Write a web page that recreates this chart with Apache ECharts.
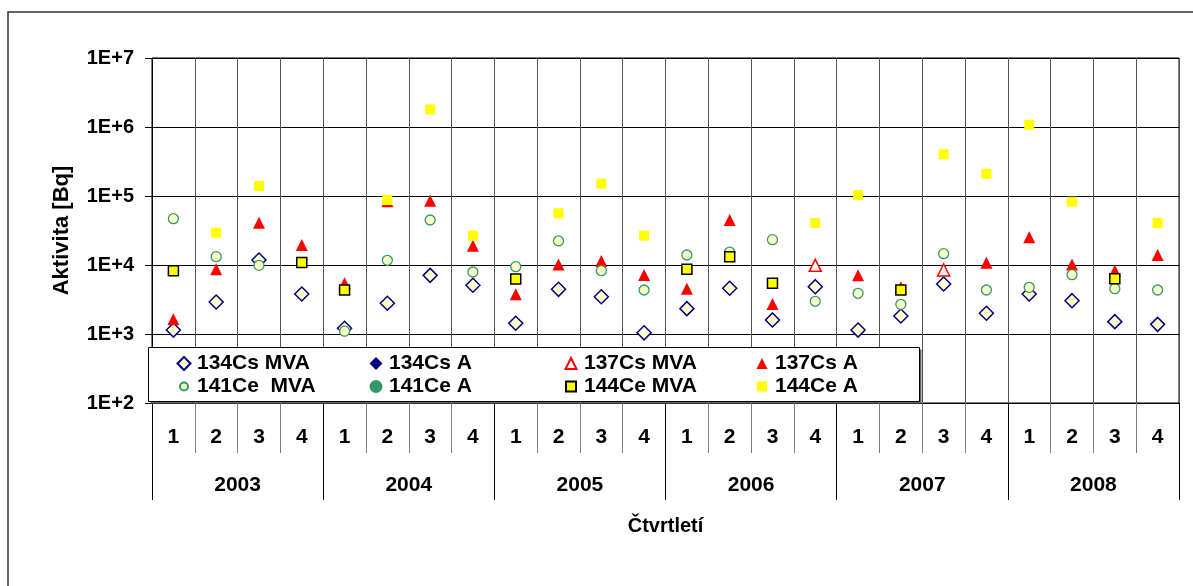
<!DOCTYPE html>
<html>
<head>
<meta charset="utf-8">
<script src="https://cdn.jsdelivr.net/npm/echarts@6/dist/echarts.min.js"></script>
<style>
html,body{margin:0;padding:0;background:#fff;}
#chart{width:1193px;height:586px;}
</style>
</head>
<body>
<div id="chart"></div>
<script>
// ---- data ----
const years = ['2003','2004','2005','2006','2007','2008'];
const quarters = ['1','2','3','4'];
const yTickExponents = [2,3,4,5,6,7];

const cs134MVA = [1140, 2910, 11800, 3800, 1210, 2790, 7080, 5080, 1430, 4440, 3470, 1040,
                  2330, 4600, 1600, 4850, 1140, 1820, 5300, 2000, 3800, 3040, 1510, 1380];
const cs134A   = [];
const cs137MVA = [null, null, null, null, null, null, null, null, null, null, null, null,
                  null, null, null, 9900, null, null, 8470, null, null, null, null, null];
const cs137A   = [1630, 8650, 41000, 19500, 5430, 84000, 85500, 19000, 3760, 10200, 11400, 7160,
                  4540, 44900, 2720, null, 7080, 4750, null, 10800, 25200, 10200, 8270, 14000];
const ce141MVA = [46900, 13200, 9900, null, 1100, 11700, 44900, 7920, 9460, 22300, 8270, 4340,
                  13960, 15400, 23300, 2980, 3890, 2690, 14600, 4340, 4750, 7230, 4540, 4340];
const ce141A   = [];
const ce144MVA = [8270, null, null, 10900, 4340, null, null, null, 6270, null, null, null,
                  8650, 13200, 5430, null, null, 4340, null, null, null, null, 6330, null];
const ce144A   = [null, 29400, 139600, null, null, 87500, 1800000, 26600, null, 56100, 151000, 26600,
                  null, null, null, 40600, 103000, null, 402000, 210000, 1080000, 82600, null, 40600];

const categories = [];
years.forEach(y => quarters.forEach(q => categories.push(y + '-' + q)));

const FONT = "'Liberation Sans', Arial, sans-serif";
const txt = {fontFamily: FONT, fontWeight: 'bold', fontSize: 20, color: '#000'};

function clean(a){ return a.map(v => v == null ? '-' : v); }

const seriesDefs = [
  {name:'134Cs MVA', data:cs134MVA, symbol:'diamond', size:14, style:{color:'#FFFFCC', borderColor:'#000080', borderWidth:1.5}, lg:{w:13,h:13}},
  {name:'134Cs A', data:cs134A, symbol:'diamond', size:14, style:{color:'#000080'}, lg:{w:13,h:13}},
  {name:'137Cs MVA', data:cs137MVA, symbol:'triangle', size:12, style:{color:'#FFFFFF', borderColor:'#FF0000', borderWidth:1.5}, lg:{w:11,h:11}},
  {name:'137Cs A', data:cs137A, symbol:'triangle', size:12, style:{color:'#FF0000'}, lg:{w:11,h:11}},
  {name:'141Ce  MVA', data:ce141MVA, symbol:'circle', size:10, style:{color:'#FFFFCC', borderColor:'#339966', borderWidth:1.3}, lg:{w:8,h:8}},
  {name:'141Ce A', data:ce141A, symbol:'circle', size:10, style:{color:'#339966'}, lg:{w:13,h:13}},
  {name:'144Ce MVA', data:ce144MVA, symbol:'rect', size:10, style:{color:'#FFFF00', borderColor:'#000000', borderWidth:1.5}, lg:{w:10,h:10}},
  {name:'144Ce A', data:ce144A, symbol:'rect', size:10, style:{color:'#FFFF00'}, lg:{w:10,h:10}}
];

// legend grid: icon centers
const legCols = [183, 376, 570, 762];
const legRows = [363.5, 386.5];
const legendTextStart = [196, 389, 583, 775];
const legendPos = [[0,0],[1,0],[2,0],[3,0],[0,1],[1,1],[2,1],[3,1]];

const legends = seriesDefs.map((s, i) => {
  const [c, r] = legendPos[i];
  const left = legCols[c] - s.lg.w / 2;
  const textPad = legendTextStart[c] - (left + s.lg.w + 5);
  return {
    show: true, data: [s.name], selectedMode: false,
    left: left, top: legRows[r] - 10.5, padding: 0,
    itemWidth: s.lg.w, itemHeight: s.lg.h, z: 8,
    textStyle: Object.assign({}, txt, {fontSize: 21, lineHeight: 21, padding: [0, 0, 0, Math.max(0, textPad)]})
  };
});

const series = seriesDefs.map(s => ({
  name: s.name, type: 'scatter', data: clean(s.data),
  symbol: s.symbol, symbolSize: s.size,
  itemStyle: Object.assign({opacity: 1}, s.style),
  xAxisIndex: 0, yAxisIndex: 0,
  emphasis: {disabled: true}, z: 2
}));

const chart = echarts.init(document.getElementById('chart'), null, {renderer: 'canvas'});
chart.setOption({
  animation: false,
  backgroundColor: '#ffffff',
  grid: {left: 152, right: 14, top: 58, bottom: 183, show: true, borderColor: '#000', borderWidth: 1, backgroundColor: 'transparent'},
  legend: legends,
  xAxis: [
    {
      type: 'category', data: categories, position: 'bottom', boundaryGap: true,
      axisLine: {show: true, lineStyle: {color: '#000', width: 1}},
      axisTick: {show: true, interval: 0, length: 50, lineStyle: {color: '#808080', width: 1}},
      axisLabel: Object.assign({}, txt, {fontSize: 21, interval: 0, margin: 24, formatter: v => v.split('-')[1]}),
      splitLine: {show: true, interval: 0, lineStyle: {color: '#555', width: 1}}
    },
    {
      type: 'category', data: years, position: 'bottom', boundaryGap: true, gridIndex: 0,
      axisLine: {show: false},
      axisTick: {show: true, interval: 0, length: 97, lineStyle: {color: '#000', width: 1}},
      axisLabel: Object.assign({}, txt, {fontSize: 21, interval: 0, margin: 72}),
      splitLine: {show: false},
      name: 'Čtvrtletí', nameLocation: 'middle', nameGap: 113,
      nameTextStyle: Object.assign({}, txt)
    }
  ],
  yAxis: {
    type: 'log', logBase: 10,
    min: Math.pow(10, yTickExponents[0]), max: Math.pow(10, yTickExponents[yTickExponents.length - 1]),
    splitNumber: yTickExponents.length - 1,
    axisLine: {show: true, lineStyle: {color: '#000', width: 1}},
    axisTick: {show: true, inside: false, length: 7, lineStyle: {color: '#000'}},
    axisLabel: Object.assign({}, txt, {margin: 18, formatter: v => '1E+' + Math.round(Math.log10(v))}),
    splitLine: {show: true, lineStyle: {color: '#000', width: 1}},
    name: 'Aktivita [Bq]', nameLocation: 'middle', nameGap: 79,
    nameTextStyle: Object.assign({}, txt, {fontSize: 22})
  },
  graphic: [
    {type: 'rect', z: 0, silent: true, shape: {x: 8, y: 12, width: 1200, height: 600},
     style: {fill: 'none', stroke: '#333', lineWidth: 1.5}},
    {type: 'rect', z: 6, silent: true, shape: {x: 150.5, y: 349.5, width: 771, height: 54},
     style: {fill: '#666', stroke: null}},
    {type: 'rect', z: 7, silent: true, shape: {x: 148.5, y: 347.5, width: 771, height: 54},
     style: {fill: '#fff', stroke: '#000', lineWidth: 1}}
  ],
  series: series
});
</script>
</body>
</html>
